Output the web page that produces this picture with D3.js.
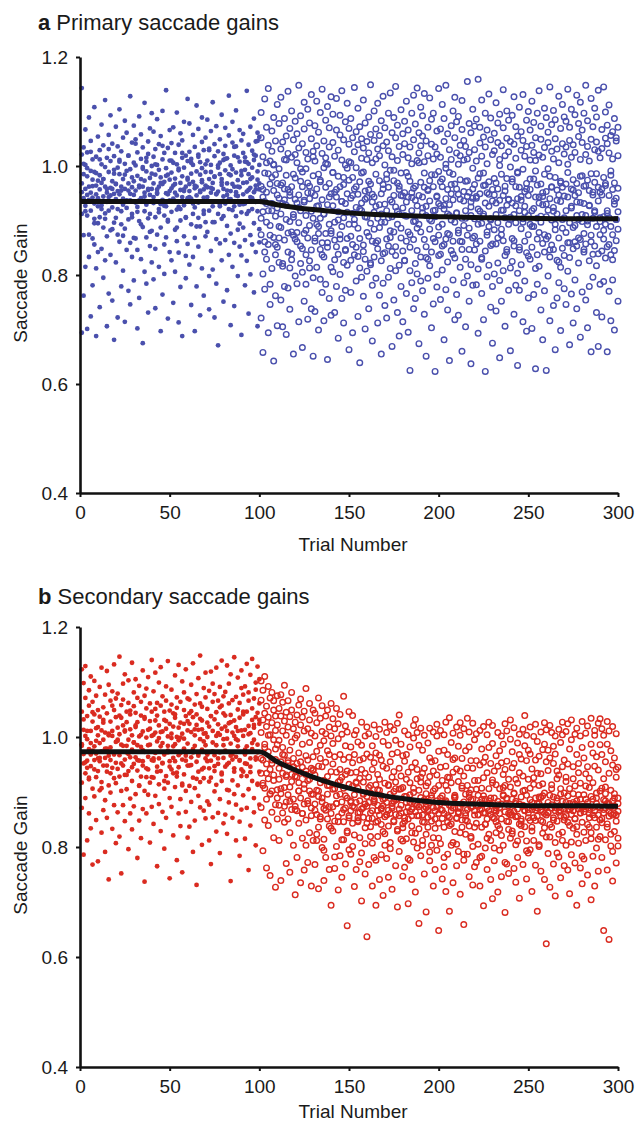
<!DOCTYPE html>
<html>
<head>
<meta charset="utf-8">
<script src="https://cdn.jsdelivr.net/npm/d3@7"></script>
<style>
  body { margin: 0; background: #fff; }
  svg { display: block; font-family: "Liberation Sans", Arial, Helvetica, sans-serif; }
</style>
</head>
<body>
<svg width="636" height="1125"></svg>
<script>
// saccade gains in thousandths, 5 saccades per trial, trials in order (one line = 10 trials)
const primaryBaseline = `
1143 968 912 1021 694 985 873 1034 941 762 1002 927 815 958 1067 909 996 701 947 1025 874 962 1089 936 833 991 724 951 1046 918 867 1012 942 781 975 1108 931 856 989 903 948 812 1017 964 688 973 1054 895 926 842
1029 957 741 983 906 1076 921 848 1003 969 795 944 1038 887 976 913 1121 962 827 998 951 706 1015 934 871 989 1057 918 766 943 1009 882 960 1093 837 972 924 753 1041 958 896 1018 681 949 986 1072 905 823 967 939
954 1036 874 997 722 1011 948 861 985 1104 917 779 962 1027 893 940 1052 808 976 929 1083 958 714 1004 885 936 991 846 1061 923 771 968 1019 902 955 1128 937 859 994 746 979 1043 912 833 961 1006 868 947 1074 790
1001 933 867 1049 955 702 982 916 1025 846 964 1091 899 937 758 1013 976 829 1058 941 888 995 675 962 1034 917 806 973 1116 951 869 1008 929 784 990 1045 904 956 731 1022 947 853 1069 978 912 823 1000 958 1097 881
943 1017 792 968 1063 906 984 848 1031 739 957 1002 874 949 1086 921 815 993 1040 962 697 979 930 1055 887 967 764 1012 938 1101 856 971 1024 909 802 950 1139 926 869 996 1033 948 720 984 901 1066 937 842 975 1010
916 1042 959 827 988 1071 938 749 1006 964 883 1024 951 806 977 1098 920 862 1003 946 713 992 1039 925 841 969 1060 900 778 956 1015 943 688 981 1047 928 871 997 1081 954 794 1019 962 906 835 975 1123 941 857 1009
1026 967 819 954 1078 893 986 745 1013 940 1057 912 833 971 1002 959 697 1035 924 868 990 1111 946 779 962 1021 905 852 1068 933 984 726 1007 955 889 1044 970 812 996 1089 918 957 762 1029 942 871 1003 964 1052 897
961 1085 879 1010 943 798 976 1032 918 737 989 1064 951 844 1002 926 1117 969 810 958 1040 897 980 722 1018 949 866 1073 935 784 997 1027 912 953 671 985 1049 929 858 1006 965 1094 903 827 976 1022 944 751 1011 958
1037 931 864 992 1070 947 772 1014 968 890 1056 921 837 985 1129 954 708 1001 939 876 1043 967 815 994 1081 926 859 1019 962 743 988 1036 908 952 1102 883 974 798 1016 945 1066 929 852 1008 961 690 983 1047 915 836
969 1024 887 1059 948 781 993 1016 931 864 1007 970 1138 912 826 985 1039 956 729 1004 943 873 1072 960 801 997 1028 921 856 979 1011 952 1087 895 768 964 1045 934 842 1019 975 706 990 1061 917 860 1002 957 1053 884
`
const primaryAdapt = `
1052 874 963 721 1098 916 802 1017 943 658 987 1123 861 935 774 1006 897 1071 829 952 694 1038 918 856 1142 967 783 1009 891 746 1064 931 812 979 1027 869 642 1003 955 1089 908 837 1046 762 984 923 1113 851 968 707
995 823 1078 941 868 1031 754 912 1126 887 969 705 1044 931 816 1087 958 779 1012 864 928 1055 691 983 902 1137 842 957 1023 776 898 1069 813 946 737 1016 879 1101 962 828 1048 911 655 985 873 1082 939 798 1021 866
932 1059 784 1006 878 1148 947 714 1033 896 821 972 1092 853 918 667 1041 962 805 989 1117 876 934 752 1068 909 837 995 1025 783 951 1104 868 719 1013 940 1079 826 963 891 738 1050 917 846 1131 982 795 1027 904 651
1074 862 946 1009 733 893 1119 958 814 1037 876 699 985 1062 927 847 1098 792 971 904 1023 768 938 1141 859 997 716 1046 912 833 1084 961 783 1015 876 645 1003 929 1109 851 968 757 1035 893 1070 814 949 1127 881 726
988 1043 806 927 1095 864 952 731 1018 897 1066 779 943 1124 852 981 684 1029 916 838 1057 962 801 1093 874 935 757 1011 889 1138 823 966 712 1048 905 1002 845 1081 931 772 996 867 1115 949 818 1040 893 663 974 1069
827 1006 941 1087 768 913 1052 856 979 694 1026 902 1144 837 958 789 1063 924 851 997 724 1039 886 1106 948 813 971 1072 867 639 1014 932 796 1050 918 1121 843 989 761 1033 907 1079 829 954 701 1045 878 1012 942 807
1090 871 956 738 1024 895 1149 822 967 1058 781 934 1006 862 679 1047 915 833 1101 943 794 985 1068 859 926 712 1031 904 1115 848 973 763 1019 887 1056 826 949 655 1083 912 839 1037 966 785 1128 897 1002 744 930 1070
866 985 1044 721 918 1097 853 961 796 1028 881 1134 938 812 992 669 1061 907 843 1017 754 973 1089 879 946 808 1052 925 1146 836 969 731 1010 893 1075 818 957 688 1036 912 868 1103 946 779 987 1059 844 923 714 1021
951 1082 827 909 1041 766 988 862 1119 934 695 1015 879 1066 943 808 972 1035 851 625 1097 918 786 1004 942 1130 865 959 738 1048 899 821 1077 963 757 1010 886 1143 927 802 1024 946 674 1061 893 833 1108 970 789 1037
914 1055 771 943 1092 865 1008 728 987 1133 852 926 651 1046 909 829 1071 957 794 1019 884 1125 936 817 973 703 1040 899 1086 842 962 747 1013 918 1097 861 984 623 1035 907 801 1064 945 778 1022 873 1142 931 836 990
1068 838 927 755 1016 893 1113 962 809 976 681 1045 921 856 1087 940 773 1003 866 1148 912 824 1059 957 736 988 1030 874 929 643 1074 901 845 1012 966 791 1101 938 862 985 718 1052 897 1126 831 958 764 1024 913 1081
877 1003 948 726 1091 862 975 1038 814 939 660 1067 904 847 1120 953 786 1011 891 1047 829 972 705 1036 918 1155 873 944 798 1013 886 1078 952 752 1025 909 637 1061 934 819 996 1104 868 941 781 1030 903 1073 846 966
1009 782 944 1086 857 921 1159 811 978 693 1042 917 862 1071 949 766 1018 895 1121 832 964 718 1053 908 987 844 1097 932 623 1035 873 1066 951 797 1004 889 1132 926 818 971 741 1048 903 1088 854 957 779 1021 936 675
1060 883 947 802 1028 911 1116 857 969 734 1043 896 1079 822 958 648 1012 937 790 1095 874 985 752 1037 919 1140 863 946 808 1070 905 1019 836 963 706 1051 928 1101 847 977 772 1026 893 1084 939 813 998 661 1045 902
825 976 1093 867 932 728 1040 911 1127 853 962 781 1014 896 1072 940 803 987 634 1055 918 846 1108 961 772 1029 885 1063 937 819 994 714 1047 903 1131 862 953 789 1018 926 1084 841 968 697 1036 909 1100 874 946 758
1011 893 1066 829 957 702 1038 918 1119 851 976 764 1025 889 1080 943 812 991 628 1052 904 837 1097 965 783 1020 878 1138 932 816 967 736 1049 897 1073 858 944 681 1016 929 1106 842 985 771 1034 907 1089 866 953 625
1043 919 798 1062 871 940 1145 833 981 716 1027 901 1076 855 962 744 1013 924 1102 847 979 663 1050 893 1085 827 956 758 1031 912 1128 868 947 786 1006 935 1069 814 972 698 1041 886 1113 849 961 775 1022 905 1090 836
967 746 1035 918 1082 859 943 1141 807 988 672 1047 896 1071 832 958 765 1016 923 1104 848 975 712 1039 887 1094 861 946 791 1025 909 1130 853 968 738 1054 902 1078 822 951 686 1012 933 1117 865 982 769 1043 898 1066
842 963 1097 876 931 754 1021 909 1148 857 974 703 1036 892 1083 826 955 779 1009 928 1124 861 986 659 1049 904 1072 838 947 796 1030 915 1106 853 970 731 1044 889 1090 817 961 669 1027 936 1139 874 952 783 1015 898
1067 844 958 723 1032 907 1145 866 979 788 1051 893 1099 831 964 659 1041 918 1075 852 946 770 1024 905 1112 837 983 716 1056 889 1063 828 957 791 1013 930 1087 845 969 699 1046 902 1052 863 941 752 1019 916 1071 884
`
const secondaryBaseline = `
1123 984 917 1046 871 1098 952 1013 786 969 1071 934 1002 889 1129 957 1038 812 996 944 1085 923 1057 861 978 1011 947 1110 834 989 1064 906 975 1028 768 1041 958 892 1102 983 927 1016 849 970 1075 938 1003 774 961 1049
989 1037 903 1091 956 826 1012 974 1126 918 1054 867 995 1031 948 791 1077 962 1008 885 1120 937 979 1043 853 1006 966 1095 912 741 1028 981 1066 899 958 1011 833 1083 944 1002 876 1049 968 1132 925 807 991 1036 953 1070
1017 942 1079 863 993 1146 928 1005 819 967 1058 986 902 1035 752 1097 948 1021 876 1068 959 1010 931 1114 847 984 1046 905 972 1027 796 1062 938 995 1103 861 1014 963 1041 888 977 1135 920 1003 832 1056 951 990 1081 874
963 1044 896 1018 1105 939 780 1071 985 1027 848 957 1093 912 1001 1064 928 816 982 1039 956 1121 869 1010 948 1075 902 737 1033 973 1088 927 999 861 1052 964 1013 895 1109 941 808 1029 986 1061 917 1002 873 1046 958 1140
1004 926 1083 957 842 1030 971 1117 893 1008 765 1062 946 992 1039 878 1099 961 1021 914 829 1057 983 1127 938 1010 864 1074 952 989 1046 906 797 1031 968 1092 929 1015 853 1066 975 1001 1138 917 984 743 1048 956 1024 889
1059 941 998 873 1086 962 1019 821 1043 934 1112 987 909 1035 956 776 1072 1000 928 1053 861 994 1131 945 1017 887 1064 971 838 1026 959 1101 915 1006 754 1049 979 1081 932 997 864 1038 966 1123 902 1012 817 1070 948 1029
948 1068 911 1024 837 1095 963 1009 882 1047 972 1134 926 791 1036 984 1059 907 1003 848 1078 955 1022 731 1041 969 1107 893 1013 937 1061 872 996 1148 918 1030 804 1055 977 1014 866 1089 944 1006 925 1072 852 985 1117 961
1026 883 1051 968 1000 812 1084 943 1019 877 1119 957 1038 926 769 1064 990 1011 854 1097 938 1032 967 1078 901 828 1045 985 1126 913 1007 862 1066 951 1023 789 1091 972 1004 887 1057 935 1139 920 1015 843 1074 962 996 1043
975 1039 859 1082 946 1011 1130 904 997 824 1061 953 1025 881 1097 966 738 1040 988 1114 921 1008 853 1067 959 1030 896 1145 937 1002 812 1073 964 1018 877 1050 983 1108 912 994 846 1062 957 1035 784 1089 941 1012 868 1121
1002 937 1077 894 1041 968 815 1092 952 1013 871 1133 929 1046 983 1066 905 1020 758 1081 961 1007 839 1113 946 1052 978 1142 920 1031 863 1070 995 1017 889 1099 959 1036 803 1086 972 1128 913 1044 986 1061 937 1105 877 1024
`
const secondaryAdapt = `
1008 934 1067 872 1102 958 793 1031 916 1085 981 849 1043 907 1110 951 762 1019 887 1056 924 1092 839 973 1036 896 1004 748 1071 941 863 1026 958 1081 902 817 995 1049 931 1066 877 1012 959 727 1038 904 1075 851 986 1022
923 1052 876 994 812 1038 955 1077 897 739 1011 934 862 1063 981 908 1029 845 967 1094 882 1003 770 1045 928 953 851 1018 895 1066 826 976 1037 909 754 991 868 1049 932 1081 887 945 803 1015 961 713 1027 874 998 929
1040 866 952 781 1003 917 1058 843 971 902 735 1022 889 1069 934 816 987 945 1036 861 906 758 1011 878 1047 932 803 966 1088 849 921 1015 772 958 884 1031 902 826 990 1061 857 943 729 1007 871 939 1049 812 964 896
878 1002 931 768 1043 859 974 812 1026 903 947 836 1071 892 724 985 917 1034 855 961 799 1010 882 946 1057 870 739 993 921 814 1038 954 867 1006 781 928 975 851 1049 896 912 759 1018 873 968 834 1002 937 694 1061
951 829 988 873 1033 906 761 964 847 1015 893 936 801 1052 879 722 997 918 855 1024 941 784 968 896 1041 862 927 745 1005 882 813 959 1074 907 846 984 932 769 1020 871 938 826 1009 889 657 963 914 1046 853 795
881 866 935 787 982 911 843 1039 874 953 728 1004 895 822 968 916 881 936 759 1012 907 848 991 862 853 925 773 958 884 817 1027 941 869 702 985 918 854 872 896 961 806 1002 878 934 751 1018 892 843 969 637
927 852 1006 881 768 963 912 862 837 898 729 984 866 941 807 1022 887 953 781 884 913 845 971 694 1001 876 932 819 847 904 858 967 741 923 1014 869 786 958 893 871 828 947 712 992 875 916 803 1027 889 855
1008 881 943 779 858 867 912 838 985 745 1019 896 861 955 808 879 927 874 723 969 901 846 1013 883 937 766 994 859 906 918 829 972 887 691 1025 943 857 905 792 1040 876 929 814 987 862 842 908 747 966 835
892 1011 847 956 763 923 881 864 815 968 872 697 1004 936 851 982 776 881 895 917 826 857 869 945 741 998 883 809 1021 907 864 953 718 1032 879 924 798 1008 857 941 661 985 903 833 873 876 927 784 1016 890
858 976 846 812 934 886 751 1003 869 943 823 872 897 911 682 989 854 866 917 836 962 775 1016 881 928 847 889 894 803 955 729 1009 872 938 817 851 906 866 957 759 1023 884 931 794 1002 861 648 974 912 843
868 879 945 806 1012 867 921 742 883 893 836 976 781 1004 861 947 719 1027 884 912 845 857 903 787 968 854 1035 926 876 683 990 842 874 917 803 959 871 1007 735 936 889 891 828 962 891 766 1018 852 942 805
919 861 864 983 792 1026 871 938 714 1003 849 878 907 836 961 776 1015 882 929 659 849 896 823 975 857 1034 912 787 944 868 1009 746 982 891 838 886 904 816 957 872 1025 731 943 887 801 995 866 858 921 764
876 1006 843 957 772 859 894 921 805 874 868 949 729 1012 881 836 978 907 887 783 954 862 1019 693 926 887 862 841 963 798 1004 872 935 759 851 906 823 981 866 1027 741 952 889 812 878 917 854 988 706 1021
938 852 867 889 775 966 913 826 846 871 947 718 1008 883 839 975 794 872 906 861 1002 746 953 878 821 893 895 932 803 987 864 1024 681 941 912 847 1011 769 956 887 832 861 875 923 752 996 858 1031 909 816
973 887 858 829 944 761 1017 898 865 952 736 883 879 923 804 989 856 869 916 781 968 842 1005 707 935 891 847 851 960 823 1014 874 929 768 876 903 837 984 866 1039 742 957 894 811 1003 868 862 923 789 976
848 1018 907 795 969 881 868 836 942 719 1001 873 926 812 853 889 958 767 1023 867 934 683 992 856 879 912 801 965 879 891 848 933 756 1009 890 825 977 864 846 915 741 987 861 1026 898 818 955 624 1013 874
939 862 863 976 788 1021 894 841 962 727 1008 877 871 913 836 983 769 853 891 952 808 1002 866 711 969 924 847 884 889 938 782 1014 872 931 823 866 906 857 990 744 1027 883 946 812 1004 869 849 898 766 958
881 1010 927 803 857 868 951 758 1024 893 839 978 715 879 906 872 995 786 1031 859 924 834 866 897 946 771 1005 878 851 911 823 968 694 1016 884 952 807 874 869 935 762 1002 887 862 916 845 981 733 1028 873
962 827 864 895 778 1007 869 933 812 887 881 946 749 1020 874 908 836 853 925 861 987 704 1034 892 815 971 858 872 917 783 1003 866 947 729 1012 889 879 836 964 798 1025 873 940 756 858 902 849 986 819 1033
907 1015 852 968 781 868 886 924 648 1003 871 955 813 884 897 842 987 758 1028 879 934 632 1011 866 856 903 823 975 861 873 792 949 884 1019 738 962 897 828 861 874 941 771 1006 858 927 816 879 889 945 802
`

// one more saccade per trial (one line = 50 trials)
const primaryBaselineExtra = `
952 1004 917 981 938 1026 963 895 987 941 1012 928 976 903 958 1031 946 884 993 967 921 1008 955 872 984 937 1019 949 906 972 1041 925 961 893 998 944 1015 958 879 986 932 1003 951 915 969 1037 927 982 898 954
1010 940 967 887 995 921 1024 957 905 978 943 1006 931 964 889 1017 952 974 912 989 936 1029 960 897 981 948 1001 926 970 908 1013 955 939 983 919 1035 946 962 894 991 930 1008 953 917 976 941 1021 957 1046 968
`
const primaryAdaptExtra = `
904 957 842 931 986 873 918 1002 856 947 889 965 821 938 1011 877 952 839 906 978 861 924 995 848 937 882 969 813 951 1017 868 926 889 974 837 912 1004 859 943 876 988 828 957 901 866 935 979 847 915 1008
871 946 893 962 834 921 987 855 939 906 972 819 948 884 1013 863 929 897 958 841 976 905 869 934 992 852 917 963 886 945 826 908 981 874 951 898 937 845 1006 879 923 961 832 955 902 984 867 919 943 888
971 853 928 996 876 909 949 838 967 914 882 1019 861 936 904 973 847 925 958 871 941 893 986 829 912 965 879 948 901 857 977 932 868 1001 884 919 954 842 938 906 971 863 927 989 851 944 897 915 958 835
976 889 922 1010 866 943 908 951 874 930 995 846 961 917 883 937 824 969 902 945 878 1003 859 926 956 891 934 868 981 911 847 964 899 927 873 952 918 986 839 905 947 882 968 913 856 991 874 936 902 959
`
const secondaryBaselineExtra = `
987 1032 954 1011 926 968 1045 941 993 1018 962 907 1026 979 948 1003 934 1057 971 916 995 1039 952 984 1012 931 969 1048 945 990 1021 958 911 1004 976 1036 943 985 1015 927 961 1051 937 998 1009 953 920 1029 972 946
1006 983 1041 935 967 999 912 1024 957 988 1043 949 978 1014 924 966 1033 941 992 1007 956 919 1038 974 947 1002 961 1054 932 985 1019 950 903 1027 969 943 996 1011 958 929 1046 977 951 1005 936 989 1022 963 915 1031
`
const secondaryAdaptExtra = `
961 912 987 934 1003 897 952 921 978 889 943 906 968 874 931 957 883 919 946 868 927 902 955 861 914 938 879 923 896 941 867 823 902 851 889 794 876 912 838 861 905 782 879 846 921 813 868 893 829 857
884 801 872 918 846 863 789 897 835 874 908 819 852 881 776 866 903 841 887 824 859 913 797 871 848 886 832 869 906 811 853 892 779 864 838 899 825 876 857 918 803 845 883 868 791 857 902 834 873 816
889 852 764 881 927 839 866 808 894 853 871 826 911 787 862 847 898 819 874 836 905 858 781 869 893 842 816 884 859 922 798 865 877 833 851 908 772 889 846 863 824 897 855 811 878 839 902 867 793 853
886 829 914 848 871 804 867 893 835 858 881 818 906 849 872 789 863 896 827 854 919 845 868 809 881 852 837 895 862 783 874 911 841 868 826 887 853 898 814 871 844 862 909 836 879 802 858 889 847 865
`

// fitted curves
const fitTrialsA = [0, 100, 110, 120, 130, 140, 150, 160, 180, 200, 225, 250, 275, 300]
const fitGainsA = [0.935, 0.935, 0.929, 0.924, 0.920, 0.917, 0.914, 0.912, 0.909, 0.907, 0.905, 0.904, 0.903, 0.903]
const fitTrialsB = [0, 100, 110, 120, 130, 140, 150, 160, 170, 180, 190, 200, 220, 240, 260, 280, 300]
const fitGainsB = [0.973, 0.973, 0.955, 0.940, 0.927, 0.916, 0.907, 0.899, 0.893, 0.888, 0.884, 0.881, 0.878, 0.876, 0.875, 0.875, 0.874]

const xTicks = [0, 50, 100, 150, 200, 250, 300]
const yTicks = [0.4, 0.6, 0.8, 1.0, 1.2]

function parse(s, firstTrial, perTrial) {
  return s.trim().split(/\s+/).map((v, i) => ({trial: firstTrial + Math.floor(i / perTrial), gain: +v / 1000}))
}

const panels = [
  {letter: "a", title: " Primary saccade gains", color: "#4a50ad", top: 57, bottom: 493, titleY: 30, labelY: 551,
   baseline: parse(primaryBaseline, 1, 5).concat(parse(primaryBaselineExtra, 1, 1)),
   adapt: parse(primaryAdapt, 101, 5).concat(parse(primaryAdaptExtra, 101, 1)),
   fitT: fitTrialsA, fitG: fitGainsA},
  {letter: "b", title: " Secondary saccade gains", color: "#da2b20", top: 627, bottom: 1067, titleY: 604, labelY: 1118,
   baseline: parse(secondaryBaseline, 1, 5).concat(parse(secondaryBaselineExtra, 1, 1)),
   adapt: parse(secondaryAdapt, 101, 5).concat(parse(secondaryAdaptExtra, 101, 1)),
   fitT: fitTrialsB, fitG: fitGainsB}
]

const svg = d3.select("svg")
const left = 80, right = 618

panels.forEach(p => {
  const x = d3.scaleLinear().domain([0, 300]).range([left, right])
  const y = d3.scaleLinear().domain([0.4, 1.2]).range([p.bottom, p.top])
  const g = svg.append("g")

  const title = g.append("text")
      .attr("x", 38)
      .attr("y", p.titleY)
      .attr("font-size", 22)
      .attr("fill", "#1a1a1a")
  title.append("tspan").attr("font-weight", "bold").text(p.letter)
  title.append("tspan").text(p.title)

  // points
  g.append("g")
    .selectAll("circle")
    .data(p.baseline)
    .join("circle")
      .attr("cx", d => x(d.trial))
      .attr("cy", d => y(d.gain))
      .attr("r", 2.4)
      .attr("fill", p.color)

  g.append("g")
    .selectAll("circle")
    .data(p.adapt)
    .join("circle")
      .attr("cx", d => x(d.trial))
      .attr("cy", d => y(d.gain))
      .attr("r", 2.8)
      .attr("fill", "none")
      .attr("stroke", p.color)
      .attr("stroke-width", 1.4)

  const line = d3.line()
    .x((d, i) => x(p.fitT[i]))
    .y(d => y(d))
    .curve(d3.curveMonotoneX)

  g.append("path")
      .attr("d", line(p.fitG))
      .attr("fill", "none")
      .attr("stroke", "#111")
      .attr("stroke-width", 5)

  // axes
  const xAxis = g.append("g")
      .attr("transform", `translate(0,${p.bottom})`)
      .call(d3.axisBottom(x).tickValues(xTicks).tickSize(4).tickSizeOuter(0).tickPadding(9))
  const yAxis = g.append("g")
      .attr("transform", `translate(${left},0)`)
      .call(d3.axisLeft(y).tickValues(yTicks).tickFormat(d3.format(".1f")).tickSize(4).tickSizeOuter(0).tickPadding(8))

  ;[xAxis, yAxis].forEach(a => {
    a.attr("font-family", null).attr("font-size", 19)
    a.select(".domain").attr("stroke", "#111").attr("stroke-width", 2.6)
    a.selectAll(".tick line").attr("stroke", "#111").attr("stroke-width", 2)
    a.selectAll(".tick text").attr("fill", "#1a1a1a")
  })

  g.append("text")
      .attr("x", (left + right) / 2 + 4)
      .attr("y", p.labelY)
      .attr("text-anchor", "middle")
      .attr("font-size", 19)
      .attr("fill", "#1a1a1a")
      .text("Trial Number")

  g.append("text")
      .attr("transform", `translate(27,${(p.top + p.bottom) / 2 + 8}) rotate(-90)`)
      .attr("text-anchor", "middle")
      .attr("font-size", 19)
      .attr("fill", "#1a1a1a")
      .text("Saccade Gain")
})
</script>
</body>
</html>
